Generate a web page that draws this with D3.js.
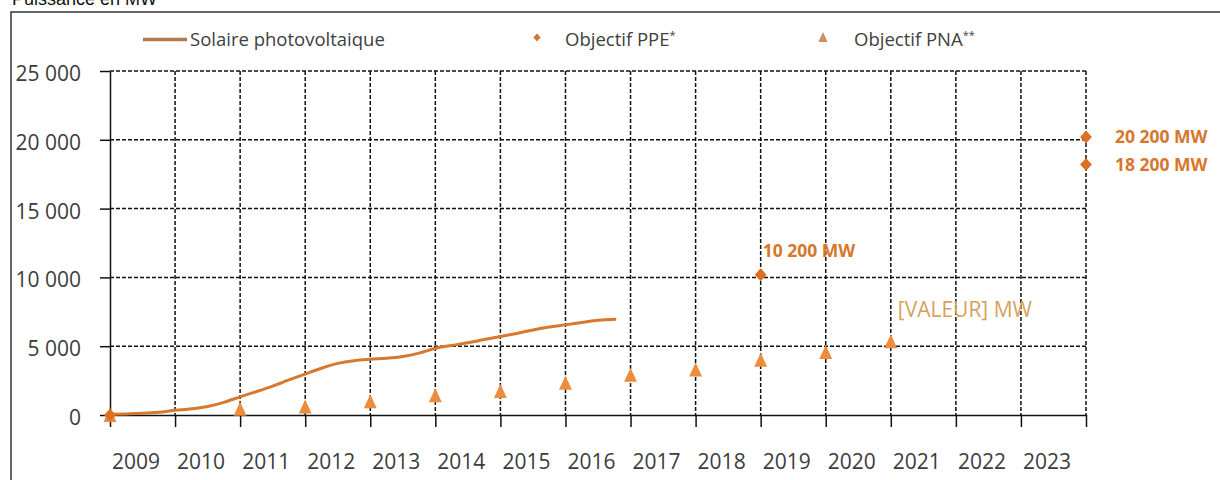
<!DOCTYPE html>
<html>
<head>
<meta charset="utf-8">
<script src="https://cdn.jsdelivr.net/npm/d3@7"></script>
<style>
  body { margin: 0; background: #fff; }
  svg text { font-family: "Open Sans", sans-serif; }
</style>
</head>
<body>
<svg id="chart" width="1220" height="480"></svg>
<script>
var years = ["2009", "2010", "2011", "2012", "2013", "2014", "2015", "2016",
             "2017", "2018", "2019", "2020", "2021", "2022", "2023"];
var yTicks = [0, 5000, 10000, 15000, 20000, 25000];

// parc solaire photovoltaique raccorde (MW), par trimestre
var pvDates = [2009, 2009.25, 2009.5, 2009.75, 2010, 2010.25, 2010.5, 2010.75,
               2011, 2011.25, 2011.5, 2011.75, 2012, 2012.25, 2012.5, 2012.75,
               2013, 2013.25, 2013.5, 2013.75, 2014, 2014.25, 2014.5, 2014.75,
               2015, 2015.25, 2015.5, 2015.75, 2016, 2016.25, 2016.5, 2016.78];
var pvValues = [50, 80, 120, 200, 340, 450, 620, 920,
                1320, 1700, 2100, 2550, 2980, 3400, 3750, 3950,
                4050, 4120, 4250, 4500, 4850, 5050, 5250, 5480,
                5700, 5930, 6180, 6400, 6550, 6720, 6880, 6950];

// objectifs PPE
var ppeDates = [2009, 2019, 2024, 2024];
var ppeValues = [0, 10200, 20200, 18200];
var ppeLabels = ["", "10 200 MW", "20 200 MW", "18 200 MW"];

// trajectoire PNA
var pnaDates = [2009, 2011, 2012, 2013, 2014, 2015, 2016, 2017, 2018, 2019, 2020, 2021];
var pnaValues = [0, 450, 620, 1000, 1430, 1750, 2340, 2930, 3310, 4020, 4570, 5360];
var pnaLabel = "[VALEUR] MW";

var svg = d3.select("#chart");

var x = d3.scaleLinear().domain([2009, 2024]).range([110, 1086]);
var y = d3.scaleLinear().domain([0, 25000]).range([415, 71]);

// cadre + titre
svg.append("rect")
  .attr("x", 11).attr("y", 12).attr("width", 1300).attr("height", 600)
  .attr("fill", "none").attr("stroke", "#333").attr("stroke-width", 1.5);

svg.append("text")
  .attr("x", 12).attr("y", 5)
  .style("font-family", "'Liberation Sans', Arial, sans-serif")
  .attr("font-size", 18).attr("fill", "#111")
  .text("Puissance en MW");

// grille
svg.append("g").selectAll("line")
  .data(yTicks.filter(function(d) { return d > 0; }))
  .enter().append("line")
  .attr("x1", x(2009)).attr("x2", x(2024))
  .attr("y1", function(d) { return y(d); })
  .attr("y2", function(d) { return y(d); })
  .attr("stroke", "#111").attr("stroke-width", 1.5)
  .attr("stroke-dasharray", "4,2");

svg.append("g").selectAll("line")
  .data(d3.range(2010, 2025))
  .enter().append("line")
  .attr("x1", function(d) { return x(d); })
  .attr("x2", function(d) { return x(d); })
  .attr("y1", y(25000)).attr("y2", y(0))
  .attr("stroke", "#111").attr("stroke-width", 1.5)
  .attr("stroke-dasharray", "4,2");

// axes
var yAxis = svg.append("g")
  .attr("transform", "translate(" + x(2009) + ",0)")
  .call(d3.axisLeft(y).tickValues(yTicks).tickSize(10).tickSizeOuter(0).tickPadding(19)
    .tickFormat(function(d) { return d3.format(",")(d).replace(/,/g, " "); }));
yAxis.attr("font-family", null).attr("font-size", null);
yAxis.selectAll("path, line").attr("stroke", "#111").attr("stroke-width", 1.5);
yAxis.selectAll("text")
  .attr("font-size", 21).attr("fill", "#3c3c3c")
  .attr("dy", null).attr("y", 9.5);

var xAxis = svg.append("g")
  .attr("transform", "translate(0," + y(0) + ")")
  .call(d3.axisBottom(x).tickValues(d3.range(2009, 2025)).tickSize(12).tickSizeOuter(0).tickFormat(""));
xAxis.selectAll("path, line").attr("stroke", "#111").attr("stroke-width", 1.5);

svg.append("g").selectAll("text")
  .data(years)
  .enter().append("text")
  .attr("x", function(d) { return x(+d + 0.4); })
  .attr("y", 469)
  .attr("text-anchor", "middle")
  .attr("font-size", 21).attr("fill", "#3c3c3c")
  .text(function(d) { return d; });

// symboles
var diamond = {
  draw: function(ctx, size) {
    var r = Math.sqrt(size) / 2;
    ctx.moveTo(0, -r); ctx.lineTo(r * 0.9, 0); ctx.lineTo(0, r); ctx.lineTo(-r * 0.9, 0); ctx.closePath();
  }
};
var triangle = {
  draw: function(ctx, size) {
    var h = Math.sqrt(size);
    ctx.moveTo(0, -h / 2); ctx.lineTo(h * 0.46, h / 2); ctx.lineTo(-h * 0.46, h / 2); ctx.closePath();
  }
};

// courbe PV
var line = d3.line()
  .x(function(d) { return x(d[0]); })
  .y(function(d) { return y(d[1]); })
  .curve(d3.curveMonotoneX);

svg.append("path")
  .datum(d3.zip(pvDates, pvValues))
  .attr("d", line)
  .attr("fill", "none").attr("stroke", "#d8782e").attr("stroke-width", 3)
  .attr("stroke-linejoin", "round");

// PNA
svg.append("g").selectAll("path")
  .data(d3.zip(pnaDates, pnaValues))
  .enter().append("path")
  .attr("transform", function(d) { return "translate(" + x(d[0]) + "," + y(d[1]) + ")"; })
  .attr("d", d3.symbol().type(triangle).size(196))
  .attr("fill", "#ec8c3c");

svg.append("text")
  .attr("x", x(pnaDates[pnaDates.length - 1]) + 7)
  .attr("y", y(pnaValues[pnaValues.length - 1]) - 24)
  .attr("font-size", 21).attr("fill", "#d6a25c")
  .text(pnaLabel);

// PPE
var ppe = d3.zip(ppeDates, ppeValues, ppeLabels);
svg.append("g").selectAll("path")
  .data(ppe)
  .enter().append("path")
  .attr("transform", function(d) { return "translate(" + x(d[0]) + "," + y(d[1]) + ")"; })
  .attr("d", d3.symbol().type(diamond).size(169))
  .attr("fill", "#dc6f22");

svg.append("g").selectAll("text")
  .data(ppe.filter(function(d) { return d[2]; }))
  .enter().append("text")
  .attr("x", function(d) { return d[0] === 2024 ? x(d[0]) + 29 : x(d[0]) + 2; })
  .attr("y", function(d) { return d[0] === 2024 ? y(d[1]) + 6 : y(d[1]) - 18; })
  .attr("font-size", 17.5).attr("font-weight", 700).attr("fill", "#d7772c")
  .text(function(d) { return d[2]; });

// legende
var legend = svg.append("g").attr("font-size", 18.5).attr("fill", "#404040");

legend.append("line")
  .attr("x1", 143).attr("x2", 187).attr("y1", 39.5).attr("y2", 39.5)
  .attr("stroke", "#b27a48").attr("stroke-width", 3.5);
legend.append("text").attr("x", 190).attr("y", 46).text("Solaire photovoltaique");

legend.append("path")
  .attr("transform", "translate(537,37.5)")
  .attr("d", d3.symbol().type(diamond).size(64))
  .attr("fill", "#d9732a");
var t1 = legend.append("text").attr("x", 565).attr("y", 46).text("Objectif PPE");
t1.append("tspan").attr("font-size", 11).attr("dy", -7).text("*");

legend.append("path")
  .attr("transform", "translate(823,37)")
  .attr("d", d3.symbol().type(triangle).size(100))
  .attr("fill", "#c99160");
var t2 = legend.append("text").attr("x", 854).attr("y", 46).text("Objectif PNA");
t2.append("tspan").attr("font-size", 11).attr("dy", -7).text("**");
</script>
</body>
</html>
